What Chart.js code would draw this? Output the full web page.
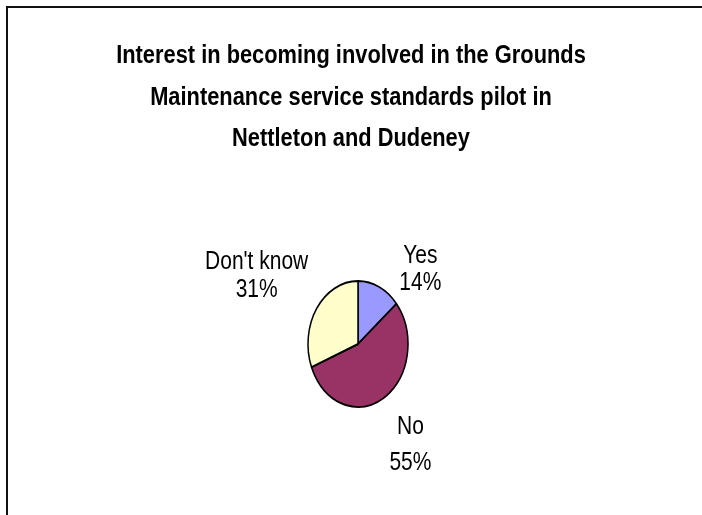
<!DOCTYPE html>
<html>
<head>
<meta charset="utf-8">
<script src="https://cdn.jsdelivr.net/npm/chart.js@4.4.1/dist/chart.umd.min.js"></script>
<style>
  html, body { margin: 0; padding: 0; background: #fff; }
  #wrap { position: relative; width: 702px; height: 515px; overflow: hidden; }
  #pieChart { display: block; }
  #frame {
    position: absolute; left: 6px; top: 6px; right: -4px; bottom: -4px;
    border-top: 2px solid #111; border-left: 2px solid #111;
    pointer-events: none;
  }
</style>
</head>
<body>
<div id="wrap">
  <canvas id="pieChart" width="702" height="515"></canvas>
  <div id="frame"></div>
</div>
<script>
const titleLines = [
    "Interest in becoming involved in the Grounds",
    "Maintenance service standards pilot in",
    "Nettleton and Dudeney"
];
const answers = ["Yes", "No", "Don't know"];
const shares = [14, 55, 31];
const sliceColours = ["#9999FF", "#993366", "#FFFFCC"];
// nudge of each label block away from the rim of its slice, and its line gap
const labelShift = [[41, -17], [27, 47], [-60, -32]];
const labelGap = [27, 36, 28];

const fontFamily = '"Liberation Sans", Arial, sans-serif';
const narrow = 0.84;   // squeeze text sideways, like a narrow face
const squash = 1.26;   // pie is drawn as an upright oval

function narrowText(ctx, text, x, y) {
    ctx.save();
    ctx.translate(x, y);
    ctx.scale(narrow, 1);
    ctx.fillText(text, 0, 0);
    ctx.restore();
}

// stretch the pie vertically around its centre
const ovalPie = {
    id: 'ovalPie',
    beforeDatasetsDraw(chart) {
        const arc = chart.getDatasetMeta(0).data[0];
        const ctx = chart.ctx;
        ctx.save();
        ctx.translate(arc.x, arc.y);
        ctx.scale(1, squash);
        ctx.translate(-arc.x, -arc.y);
    },
    afterDatasetsDraw(chart) {
        chart.ctx.restore();
    }
};

const headingAndLabels = {
    id: 'headingAndLabels',
    afterDraw(chart) {
        const ctx = chart.ctx;
        ctx.save();
        ctx.fillStyle = '#000';
        ctx.textAlign = 'center';
        ctx.textBaseline = 'middle';

        ctx.font = 'bold 26px ' + fontFamily;
        titleLines.forEach((line, i) => {
            narrowText(ctx, line, chart.width / 2, 56 + i * 41.5);
        });

        ctx.font = '25px ' + fontFamily;
        chart.getDatasetMeta(0).data.forEach((arc, i) => {
            const mid = (arc.startAngle + arc.endAngle) / 2;
            const ex = arc.x + Math.cos(mid) * arc.outerRadius;
            const ey = arc.y + Math.sin(mid) * arc.outerRadius * squash;
            const x = ex + labelShift[i][0];
            const y = ey + labelShift[i][1];
            narrowText(ctx, answers[i], x, y - labelGap[i] / 2);
            narrowText(ctx, shares[i] + '%', x, y + labelGap[i] / 2);
        });
        ctx.restore();
    }
};

new Chart(document.querySelector('#pieChart'), {
    type: 'pie',
    data: {
        labels: answers,
        datasets: [{
            data: shares,
            backgroundColor: sliceColours,
            borderColor: '#000',
            borderWidth: 1.5,
            clip: false
        }]
    },
    options: {
        responsive: false,
        animation: false,
        radius: 50,
        layout: {
            padding: { left: 14, right: 0, top: 194, bottom: 21 }
        },
        plugins: {
            legend: { display: false },
            tooltip: { enabled: false },
            title: { display: false }
        }
    },
    plugins: [ovalPie, headingAndLabels]
});
</script>
</body>
</html>
